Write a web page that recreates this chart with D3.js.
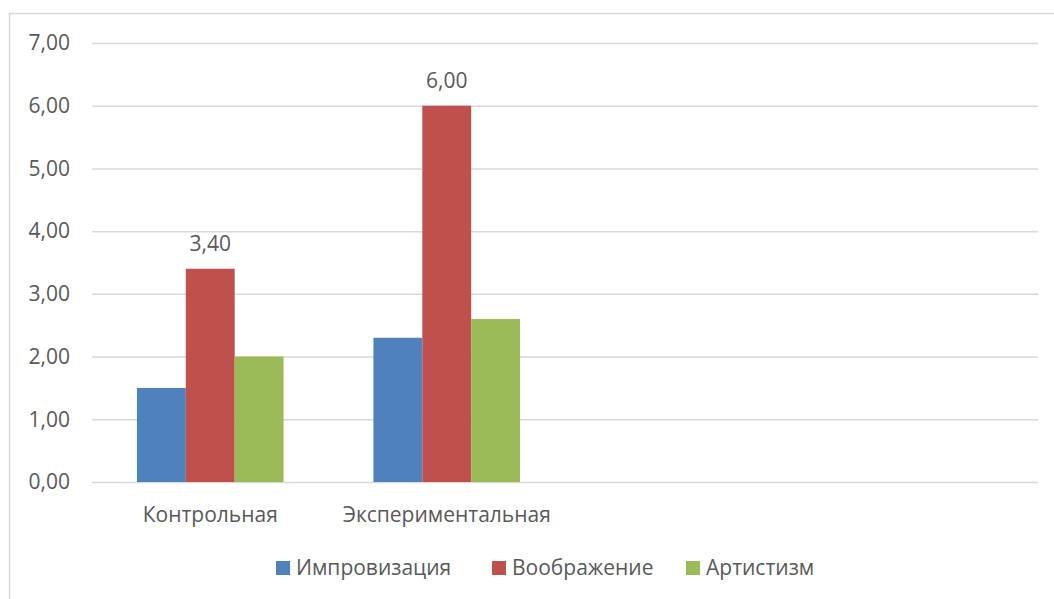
<!DOCTYPE html>
<html>
<head>
<meta charset="utf-8">
<script src="https://cdn.jsdelivr.net/npm/d3@7"></script>
<style>
  body { margin: 0; background: #fff; }
  text { font-family: "Open Sans", "Noto Sans", sans-serif; fill: #595959; }
</style>
</head>
<body>
<svg id="chart" width="1054" height="599"></svg>
<script>
var categories = ['Контрольная', 'Экспериментальная', '', ' '];
var seriesNames = ['Импровизация', 'Воображение', 'Артистизм'];
var improvisation = [1.5, 2.3, null, null];
var imagination = [3.4, 6.0, null, null];
var artistry = [2.0, 2.6, null, null];
var yTicks = [0, 1, 2, 3, 4, 5, 6, 7];

var colors = ['#4F81BD', '#C0504D', '#9BBB59'];
var seriesValues = [improvisation, imagination, artistry];

var width = 1054;
var height = 599;
var margin = { left: 92, right: 16, top: 43, bottom: 117 };
var fontSize = 21;
var fmt = d => d3.format('.2f')(d).replace('.', ',');

var svg = d3.select('#chart');

// chart frame (cut off on the right and bottom)
svg.append('path')
  .attr('d', 'M9.5,' + height + 'V13.5H' + width)
  .attr('fill', 'none')
  .attr('stroke', '#D9D9D9')
  .attr('stroke-width', 1.5);

var x = d3.scaleBand()
  .domain(categories)
  .range([margin.left, width - margin.right])
  .paddingInner(0.38)
  .paddingOuter(0.19);

var x1 = d3.scaleBand()
  .domain(seriesNames)
  .range([0, x.bandwidth()]);

var y = d3.scaleLinear()
  .domain([0, 7])
  .range([height - margin.bottom, margin.top]);

// gridlines and y labels
var yAxis = svg.append('g')
  .attr('transform', 'translate(' + margin.left + ',0)')
  .call(d3.axisLeft(y).tickValues(yTicks).tickFormat(fmt)
    .tickSize(-(width - margin.left - margin.right)).tickPadding(22));
yAxis.select('.domain').remove();
yAxis.selectAll('line').attr('stroke', '#D9D9D9').attr('stroke-width', 1.5);
yAxis.selectAll('text').attr('font-size', fontSize).attr('fill', '#595959')
  .style('font-family', '"Open Sans", sans-serif');

// bars
var groups = svg.selectAll('.series')
  .data(seriesNames).enter().append('g')
  .classed('series', true)
  .attr('fill', (d, i) => colors[i]);

groups.selectAll('rect')
  .data((d, i) => categories.map((c, j) => ({ cat: c, name: d, value: seriesValues[i][j] }))
    .filter(v => v.value !== null))
  .enter().append('rect')
  .attr('x', d => x(d.cat) + x1(d.name))
  .attr('width', x1.bandwidth())
  .attr('y', d => y(d.value))
  .attr('height', d => y(0) - y(d.value));

// data labels for the middle series only
svg.selectAll('.label')
  .data(categories.map((c, j) => ({ cat: c, value: imagination[j] })).filter(v => v.value !== null))
  .enter().append('text')
  .classed('label', true)
  .attr('x', d => x(d.cat) + x1('Воображение') + x1.bandwidth() / 2)
  .attr('y', d => y(d.value) - 25)
  .attr('dy', '.35em')
  .attr('text-anchor', 'middle')
  .attr('font-size', fontSize)
  .text(d => fmt(d.value));

// category labels
svg.selectAll('.cat')
  .data(categories).enter().append('text')
  .classed('cat', true)
  .attr('x', d => x(d) + x.bandwidth() / 2)
  .attr('y', y(0) + 33)
  .attr('dy', '.35em')
  .attr('text-anchor', 'middle')
  .attr('font-size', fontSize)
  .text(d => d.trim());

// legend
var legendX = [276, 492, 686];
var legend = svg.selectAll('.legend')
  .data(seriesNames).enter().append('g')
  .classed('legend', true)
  .attr('transform', (d, i) => 'translate(' + legendX[i] + ',568)');
legend.append('rect')
  .attr('x', 0).attr('y', -7)
  .attr('width', 14).attr('height', 14)
  .attr('fill', (d, i) => colors[i]);
legend.append('text')
  .attr('x', 20)
  .attr('dy', '.35em')
  .attr('font-size', fontSize)
  .text(d => d);
</script>
</body>
</html>
